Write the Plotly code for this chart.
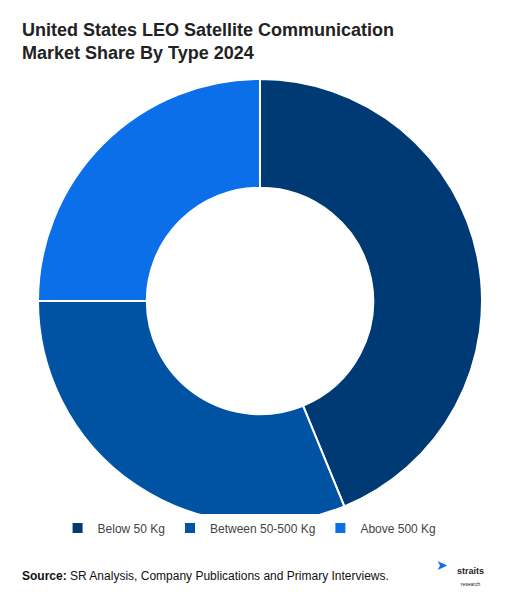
import plotly.graph_objects as go

types = ["Below 50 Kg", "Between 50-500 Kg", "Above 500 Kg"]
shares = [43.8, 31.2, 25.0]
colors = ["#003a75", "#0052a3", "#0a6fe8"]

W, H = 514, 602

fig = go.Figure(go.Pie(
    labels=types, values=shares, hole=0.51, sort=False, direction="clockwise",
    rotation=0, marker=dict(colors=colors, line=dict(color="white", width=2)),
    textinfo="none", hoverinfo="label+percent",
    domain=dict(x=[30 / W, 474 / W], y=[1 - 515 / H, 1 - 71 / H]),
))

fig.update_layout(
    width=W, height=H, margin=dict(l=0, r=0, t=0, b=0),
    paper_bgcolor="white", plot_bgcolor="white",
    font=dict(family="Liberation Sans, Arial, sans-serif", color="#333"),
    showlegend=True,
    legend=dict(orientation="h", x=0.47, xanchor="center", y=1 - 520 / H, yanchor="middle",
                font=dict(size=12, color="#444"), traceorder="normal"),
    annotations=[
        dict(text="<b>United States LEO Satellite Communication<br>Market Share By Type 2024</b>",
             x=12 / W, y=1 - 10 / H, xref="paper", yref="paper", xanchor="left", yanchor="top",
             align="left", showarrow=False, font=dict(size=18, color="#222")),
        dict(text="<b>Source:</b> SR Analysis, Company Publications and Primary Interviews.",
             x=12 / W, y=1 - 568 / H, xref="paper", yref="paper", xanchor="left", yanchor="middle",
             showarrow=False, font=dict(size=12, color="#111")),
        dict(text="<b>straits</b><br><span style='font-size:5px'>research</span>",
             x=462 / W, y=1 - 568 / H, xref="paper", yref="paper", xanchor="center", yanchor="middle",
             showarrow=False, font=dict(size=9, color="#222")),
        dict(text="➤", x=442 / W, y=1 - 567 / H, xref="paper", yref="paper",
             showarrow=False, font=dict(size=14, color="#0a6fe8")),
    ],
)

fig.write_html("out.html")
